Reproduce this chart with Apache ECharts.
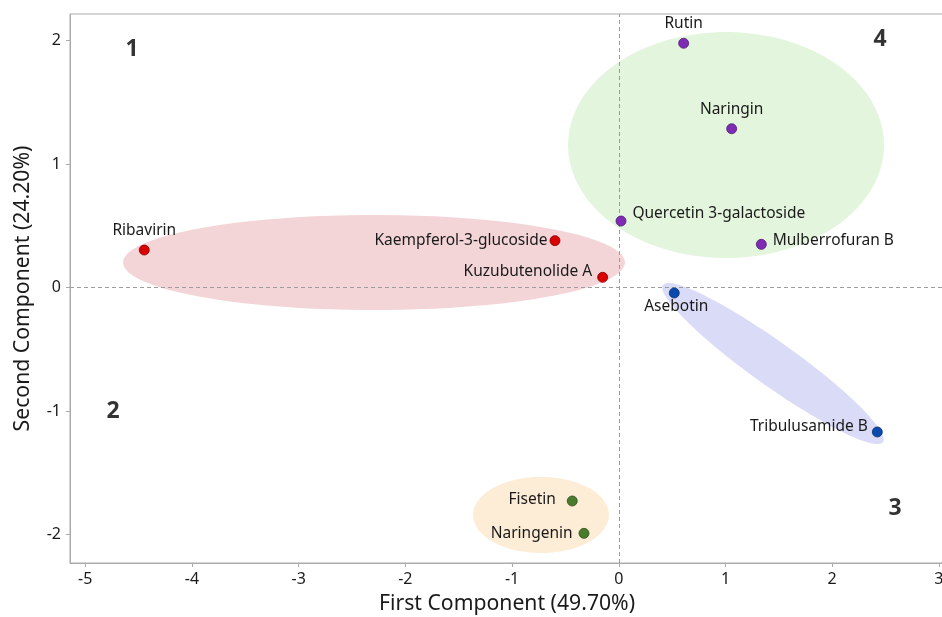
<!DOCTYPE html>
<html>
<head>
<meta charset="utf-8">
<script src="https://cdn.jsdelivr.net/npm/echarts@6/dist/echarts.min.js"></script>
<style>
  html, body { margin: 0; padding: 0; background: #ffffff; }
  #chart { width: 942px; height: 617px; }
</style>
</head>
<body>
<div id="chart"></div>
<script>
// PCA scores of the compounds (first and second principal components)
const compounds = ['Ribavirin', 'Kaempferol-3-glucoside', 'Kuzubutenolide A', 'Quercetin 3-galactoside',
                   'Rutin', 'Naringin', 'Mulberrofuran B', 'Asebotin', 'Tribulusamide B', 'Fisetin', 'Naringenin'];
const pc1 = [-4.447, -0.598, -0.151, 0.021, 0.608, 1.058, 1.336, 0.520, 2.423, -0.436, -0.326];
const pc2 = [0.305, 0.381, 0.084, 0.540, 1.979, 1.287, 0.351, -0.043, -1.168, -1.727, -1.989];
const groupOf = [0, 0, 0, 1, 1, 1, 1, 2, 2, 3, 3];

const xTicks = [-5, -4, -3, -2, -1, 0, 1, 2, 3];
const yTicks = [-2, -1, 0, 1, 2];

const quadrantNames = ['1', '2', '3', '4'];
const quadrantX = [-4.562, -4.740, 2.589, 2.448];
const quadrantY = [1.933, -0.998, -1.784, 2.006];

// group shading: centre and two semi-axis vectors, all in data units
const groupCx = [-2.294, 1.005, 1.445, -0.729];
const groupCy = [0.204, 1.155, -0.614, -1.840];
const groupU = [[2.352, 0], [1.481, 0], [1.031, -0.636], [0.637, 0]];
const groupV = [[0, 0.385], [0, 0.915], [-0.120, -0.145], [0, 0.308]];

const pointColors = ['#d90000', '#7e2cb3', '#0a4aad', '#4a7a2c'];
const pointBorders = ['#8a0000', '#4f1a73', '#06306f', '#2f4f1b'];
const shadeColors = ['#f3d5d8', '#e3f5dc', '#dadcf7', '#fdecd6'];

// label placement per compound: [position, distance, dx, dy]
const labelPlace = {
  'Ribavirin': ['top', 6, 0, 0],
  'Kaempferol-3-glucoside': ['left', 2, 0, 0],
  'Kuzubutenolide A': ['left', 5, 0, -6],
  'Quercetin 3-galactoside': ['right', 6, 0, -7],
  'Rutin': ['top', 6, 0, 0],
  'Naringin': ['top', 6, 0, 0],
  'Mulberrofuran B': ['right', 6, 0, -4],
  'Asebotin': ['bottom', 0, 2, 0],
  'Tribulusamide B': ['left', 4, 0, -5],
  'Fisetin': ['left', 11, 0, -1],
  'Naringenin': ['left', 6, 0, 0]
};

const FONT = 'Noto Sans';
const AXIS_GREY = '#ababab';

const chart = echarts.init(document.getElementById('chart'), null, { renderer: 'canvas' });

function pointsOfGroup(g) {
  const out = [];
  for (let i = 0; i < compounds.length; i++) {
    if (groupOf[i] !== g) continue;
    const p = labelPlace[compounds[i]];
    out.push({
      name: compounds[i],
      value: [pc1[i], pc2[i]],
      label: { position: p[0], distance: p[1], offset: [p[2], p[3]] }
    });
  }
  return out;
}

const pointSeries = pointColors.map((c, g) => ({
  type: 'scatter',
  z: 5,
  symbol: 'circle',
  symbolSize: 10,
  itemStyle: { color: c, borderColor: pointBorders[g], borderWidth: 0.8, opacity: 1 },
  label: {
    show: true,
    formatter: '{b}',
    fontFamily: FONT,
    fontSize: 15.5,
    color: '#1a1a1a'
  },
  emphasis: { disabled: true },
  data: pointsOfGroup(g)
}));

const shadeSeries = {
  type: 'custom',
  z: 1,
  silent: true,
  data: groupCx.map((cx, g) => [cx, groupCy[g]]),
  renderItem: function (params, api) {
    const g = params.dataIndex;
    const u = groupU[g], v = groupV[g];
    const pts = [];
    const n = 90;
    for (let k = 0; k < n; k++) {
      const t = 2 * Math.PI * k / n;
      pts.push(api.coord([
        groupCx[g] + u[0] * Math.cos(t) + v[0] * Math.sin(t),
        groupCy[g] + u[1] * Math.cos(t) + v[1] * Math.sin(t)
      ]));
    }
    return {
      type: 'polygon',
      shape: { points: pts, smooth: 0 },
      style: { fill: shadeColors[g], stroke: null }
    };
  }
};

const referenceLines = {
  type: 'scatter',
  z: 2,
  silent: true,
  data: [],
  markLine: {
    silent: true,
    symbol: ['none', 'none'],
    label: { show: false },
    lineStyle: { color: '#9c9c9c', width: 1, type: [4, 3] },
    data: [{ xAxis: 0 }, { yAxis: 0 }]
  }
};

const quadrantSeries = {
  type: 'scatter',
  z: 6,
  silent: true,
  symbolSize: 0,
  label: {
    show: true,
    position: 'inside',
    formatter: '{b}',
    fontFamily: FONT,
    fontSize: 23,
    fontWeight: 'bold',
    color: '#000000'
  },
  data: quadrantNames.map((n, i) => ({ name: n, value: [quadrantX[i], quadrantY[i]] }))
};

chart.setOption({
  animation: false,
  backgroundColor: '#ffffff',
  grid: {
    left: 70, top: 14, width: 874, height: 549,
    outerBoundsMode: 'none',
    containLabel: false,
    show: true, borderColor: AXIS_GREY, borderWidth: 1, backgroundColor: 'transparent'
  },
  xAxis: {
    type: 'value',
    min: -5.143,
    max: 3.048,
    name: 'First Component (49.70%)',
    nameLocation: 'middle',
    nameGap: 30,
    nameTextStyle: { fontFamily: FONT, fontSize: 21.2, color: '#1a1a1a' },
    axisLine: { show: true, onZero: false, lineStyle: { color: AXIS_GREY, width: 1 } },
    axisTick: { show: true, length: 4, customValues: xTicks, lineStyle: { color: AXIS_GREY } },
    axisLabel: { customValues: xTicks, fontFamily: FONT, fontSize: 16, color: '#1a1a1a', margin: 8 },
    splitLine: { show: false }
  },
  yAxis: {
    type: 'value',
    min: -2.229,
    max: 2.216,
    name: 'Second Component (24.20%)',
    nameLocation: 'middle',
    nameGap: 37,
    nameRotate: 90,
    nameTextStyle: { fontFamily: FONT, fontSize: 21.2, color: '#1a1a1a' },
    axisLine: { show: true, onZero: false, lineStyle: { color: AXIS_GREY, width: 1 } },
    axisTick: { show: true, length: 4, customValues: yTicks, lineStyle: { color: AXIS_GREY } },
    axisLabel: { customValues: yTicks, fontFamily: FONT, fontSize: 16, color: '#1a1a1a', margin: 9 },
    splitLine: { show: false }
  },
  series: [shadeSeries, referenceLines].concat(pointSeries, [quadrantSeries])
});
</script>
</body>
</html>
